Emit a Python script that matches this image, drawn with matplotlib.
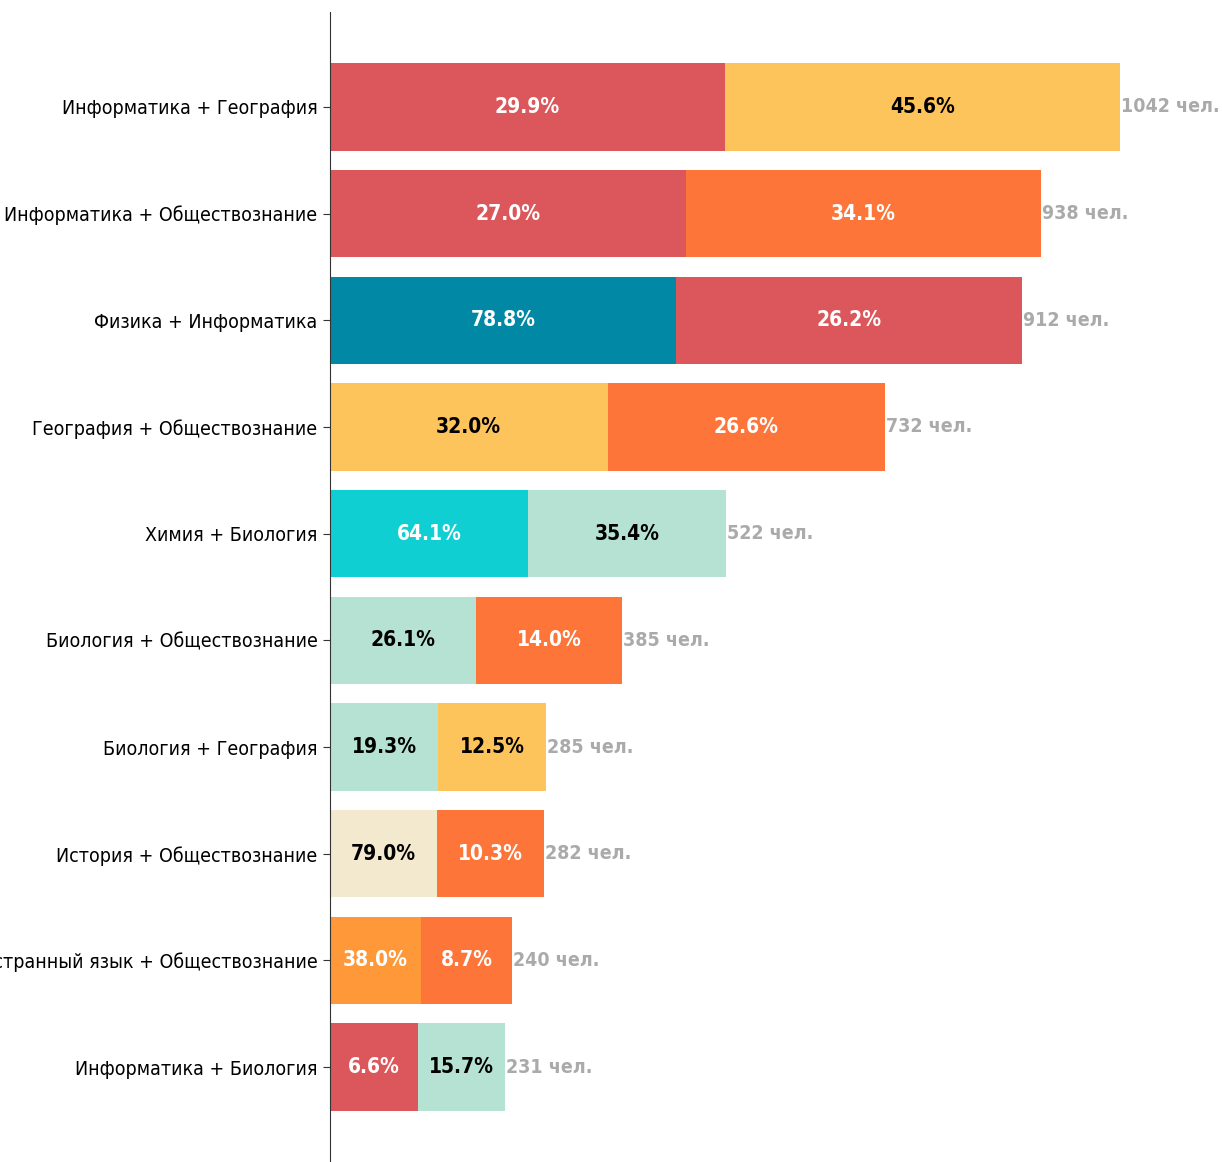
import matplotlib
matplotlib.use("Agg")
import matplotlib.pyplot as plt
from matplotlib import font_manager
from matplotlib.font_manager import FontProperties

# pairs of exam subjects, top to bottom
pairs = ["Информатика + География",
         "Информатика + Обществознание",
         "Физика + Информатика",
         "География + Обществознание",
         "Химия + Биология",
         "Биология + Обществознание",
         "Биология + География",
         "История + Обществознание",
         "Иностранный язык + Обществознание",
         "Информатика + Биология"]
counts = [1042, 938, 912, 732, 522, 385, 285, 282, 240, 231]
left_part = [521, 469, 456, 366, 261, 192.5, 142.5, 141, 120, 115.5]
right_part = [521, 469, 456, 366, 261, 192.5, 142.5, 141, 120, 115.5]
left_subj = ["Информатика", "Информатика", "Физика", "География", "Химия",
             "Биология", "Биология", "История", "Иностранный язык", "Информатика"]
right_subj = ["География", "Обществознание", "Информатика", "Обществознание", "Биология",
              "Обществознание", "География", "Обществознание", "Обществознание", "Биология"]
left_pct = [29.9, 27.0, 78.8, 32.0, 64.1, 26.1, 19.3, 79.0, 38.0, 6.6]
right_pct = [45.6, 34.1, 26.2, 26.6, 35.4, 14.0, 12.5, 10.3, 8.7, 15.7]

subj_color = {"Информатика": "#db575b", "География": "#fec45c",
              "Обществознание": "#fd7538", "Физика": "#0088a5",
              "Химия": "#0fcfd3", "Биология": "#b6e2d3",
              "История": "#f2e9cf", "Иностранный язык": "#fe9838"}
dark_text = {"География", "Биология", "История"}

# narrow font if there is one
narrow = [f for f in font_manager.fontManager.ttflist
          if ("narrow" in f.fname.lower() or "condensed" in f.fname.lower())
          and "italic" not in f.fname.lower() and "oblique" not in f.fname.lower()]
reg = [f for f in narrow if f.weight in (400, "normal", "regular")]
bld = [f for f in narrow if f.weight in (700, "bold")]
if reg and bld:
    fp_reg = FontProperties(fname=reg[0].fname, size=14)
    fp_bold = FontProperties(fname=bld[0].fname, size=15)
    fp_cnt = FontProperties(fname=bld[0].fname, size=14)
else:
    fp_reg = FontProperties(family="Lato", size=14)
    fp_bold = FontProperties(family="Lato", weight="bold", size=15)
    fp_cnt = FontProperties(family="Lato", weight="bold", size=14)

fig = plt.figure(figsize=(12.22, 11.62), dpi=100)
ax = fig.add_axes([330/1222, 0.0, 1 - 330/1222, 1 - 12/1162])

y = list(range(len(pairs)))
lc = [subj_color[s] for s in left_subj]
rc = [subj_color[s] for s in right_subj]
ax.barh(y, left_part, height=0.82, color=lc)
ax.barh(y, right_part, left=left_part, height=0.82, color=rc)

for i in y:
    tc = "black" if left_subj[i] in dark_text else "white"
    ax.text(left_part[i]/2, i, f"{left_pct[i]:.1f}%", ha="center", va="center",
            color=tc, fontproperties=fp_bold)
    tc = "black" if right_subj[i] in dark_text else "white"
    ax.text(left_part[i] + right_part[i]/2, i, f"{right_pct[i]:.1f}%", ha="center",
            va="center", color=tc, fontproperties=fp_bold)
    ax.text(counts[i] + 1, i, f"{counts[i]} чел.", ha="left", va="center",
            color="#aaaaaa", fontproperties=fp_cnt)

ax.set_yticks(y)
ax.set_yticklabels(pairs)
for lab in ax.get_yticklabels():
    lab.set_fontproperties(fp_reg)
ax.set_ylim(len(pairs) - 1 + 0.89, -0.89)
ax.set_xlim(0, 1176)
ax.set_xticks([])
for s in ["top", "right", "bottom"]:
    ax.spines[s].set_visible(False)
ax.spines["left"].set_color("#333333")
ax.tick_params(axis="y", length=5, color="#333333", pad=4)

fig.savefig("out.png", dpi=100)
